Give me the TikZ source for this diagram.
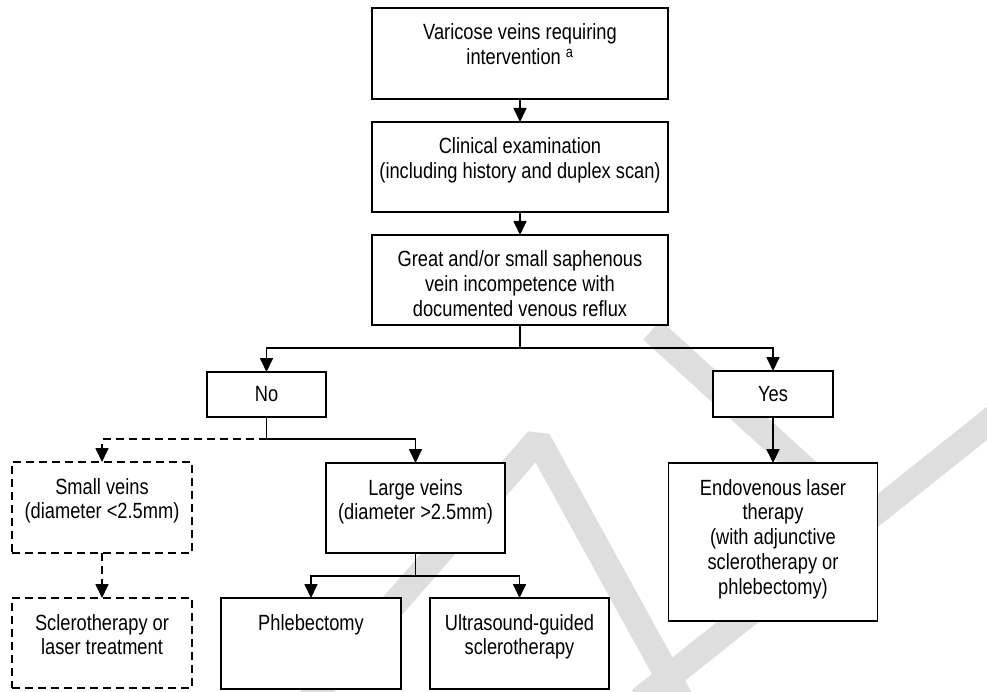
\documentclass[tikz,border=0pt]{standalone}
\usepackage{fontspec}
\setmainfont{Liberation Sans}[FakeStretch=0.83]
\usetikzlibrary{arrows.meta}
\newfontfamily\boxfamily{Liberation Sans}[FakeStretch=0.83]
\newcommand{\boxfont}{\boxfamily\fontsize{22}{24.8}\selectfont}
% text set at the top of a fixed box
\newcommand{\boxtext}[3]{\parbox[c][#2][t]{#1}{\centering\rule{0pt}{32pt}#3}}
\tikzset{
    box/.style = {
        draw, fill=white, rectangle, align=center,
        line width=1.7pt,
        outer sep=0,
        inner sep=0,
        font=\boxfont
    },
    dbox/.style = {box, dash pattern=on 8pt off 5pt},
    flow/.style = {-{Triangle[length=14pt,width=13pt]}, line width=1.7pt},
    dflow/.style = {flow, dash pattern=on 8pt off 5pt},
    wmark/.style = {line width=26pt, black!13, line join=bevel}
}

\begin{document}
\begin{tikzpicture}[x=1pt,y=-1pt]
\useasboundingbox (0,0) rectangle (987,692);

% 1. watermark behind everything
\begin{scope}
\clip (0,0) rectangle (987,692);
\draw [wmark] (310,700) -- (538,440) -- (681,700);
\draw [wmark] (652,330) -- (862,521);
\draw [wmark] (1000,413) -- (640,700);
\end{scope}

% 2. boxes
\node[box] (vv)  at (520,53.5)  {\boxtext{296pt}{91pt}{Varicose veins requiring\\intervention \textsuperscript{a}}};
\node[box] (ce)  at (520,167)   {\boxtext{296pt}{90pt}{Clinical examination\\(including history and duplex scan)}};
\node[box] (gs)  at (520,280)   {\boxtext{296pt}{90pt}{Great and/or small saphenous\\vein incompetence with\\documented venous reflux}};
\node[box,minimum width=119pt,minimum height=45pt] (no)  at (266.5,394.5) {No};
\node[box,minimum width=120pt,minimum height=46pt] (yes) at (773,394)    {Yes};
\node[dbox] (sv)  at (102,507.5)  {\boxtext{180pt}{91pt}{Small veins\\(diameter <2.5mm)}};
\node[box]  (lv)  at (415.5,508)  {\boxtext{179pt}{90pt}{Large veins\\(diameter >2.5mm)}};
\node[box]  (elt) at (773,542)    {\boxtext{209pt}{158pt}{Endovenous laser\\therapy\\(with adjunctive\\sclerotherapy or\\phlebectomy)}};
\node[dbox] (slt) at (102,643)    {\boxtext{180pt}{90pt}{Sclerotherapy or\\laser treatment}};
\node[box]  (ph)  at (311,643.5)  {\boxtext{180pt}{91pt}{Phlebectomy}};
\node[box]  (us)  at (519.5,643.5){\boxtext{179pt}{91pt}{Ultrasound-guided\\sclerotherapy}};

% 3. split points
\coordinate (jg) at (520,348);
\coordinate (jn) at (266.5,439);
\coordinate (jl) at (415.5,576);

% 4. arrows
\draw [flow] (vv) -- (ce);
\draw [flow] (ce) -- (gs);
\draw [line width=1.7pt] (gs) -- (jg);
\draw [flow] (jg) -| (no);
\draw [flow] (jg) -| (yes);
\draw [line width=1.7pt] (no) -- (jn);
\draw [dflow] (jn) -| (sv);
\draw [flow] (jn) -| (lv);
\draw [dflow] (sv) -- (slt);
\draw [flow] (yes) -- (elt);
\draw [line width=1.7pt] (lv) -- (jl);
\draw [flow] (jl) -| (ph);
\draw [flow] (jl) -| (us);

\end{tikzpicture}
\end{document}
